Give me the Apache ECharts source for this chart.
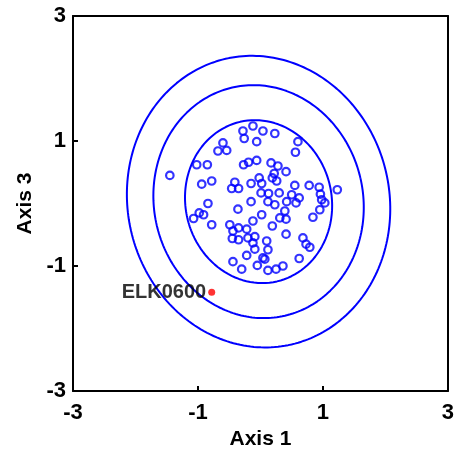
<!DOCTYPE html>
<html>
<head>
<meta charset="utf-8">
<script src="https://cdn.jsdelivr.net/npm/echarts@6/dist/echarts.min.js"></script>
<style>
  html, body { margin: 0; padding: 0; background: #fff; }
  #chart { width: 457px; height: 455px; }
</style>
</head>
<body>
<div id="chart"></div>
<script>
// Sample scores on ordination axes 1 and 3
const axis1 = [
  -0.12, -0.28, 0.04, 0.23, -0.26, -0.06, 0.60, 0.56, -0.60, -0.68,
  -0.54, -1.02, -0.85, -1.45, -0.94, -0.78, -0.27, -0.19, -0.06, 0.17,
  0.28, 0.41, 0.22, -0.02, 0.19, 0.26, 0.02, -0.15, -0.41, -0.46,
  -0.35, 0.55, 0.78, 0.94, 1.23, 0.96, 0.98, 0.50, 0.30, 0.13,
  0.01, 0.62, 0.42, 0.57, 1.03, 0.95, 0.84, -0.15, 0.12, 0.23,
  0.39, 0.02, 0.31, 0.41, 0.19, -0.12, -0.36, -0.84, -0.98, -0.91,
  -1.07, -0.78, -0.49, -0.35, -0.22, -0.44, -0.45, -0.35, -0.20, -0.09,
  -0.12, 0.10, 0.12, -0.09, -0.22, 0.04, -0.05, 0.07, -0.44, -0.30,
  0.12, 0.25, 0.36, 0.62, 0.41, 0.68, 0.73, 0.79
];
const axis3 = [
  1.24, 1.16, 1.16, 1.12, 1.04, 0.99, 0.99, 0.82, 0.97, 0.84,
  0.85, 0.62, 0.62, 0.45, 0.31, 0.36, 0.62, 0.66, 0.69, 0.65,
  0.60, 0.51, 0.48, 0.41, 0.41, 0.36, 0.32, 0.32, 0.34, 0.24,
  0.24, 0.29, 0.29, 0.26, 0.22, 0.15, 0.06, 0.14, 0.17, 0.16,
  0.17, 0.09, 0.03, 0.01, 0.01, -0.10, -0.22, 0.03, 0.03, -0.02,
  -0.12, -0.18, -0.23, -0.25, -0.36, -0.28, -0.09, 0.00, -0.15, -0.18,
  -0.24, -0.34, -0.34, -0.39, -0.41, -0.44, -0.56, -0.58, -0.55, -0.53,
  -0.63, -0.60, -0.74, -0.73, -0.83, -0.87, -0.99, -0.89, -0.93, -1.05,
  -1.07, -1.05, -1.00, -0.88, -0.49, -0.55, -0.65, -0.70
];

// Highlighted outlier
const outlierName = ['ELK0600'];
const outlierPoint = [-0.78, -1.42];

// Confidence ellipses: common centre, inner semi-axes, tilt and scale of each ring
const ellipseCenter = [-0.03, 0.03];
const ellipseSemiAxes = [1.17, 1.31];
const ellipseTiltDeg = [13];
const ellipseScales = [1, 1.43, 1.79];

// Axis ticks and titles
const tickValues = [-3, -1, 1, 3];
const axisTitles = ['Axis 1', 'Axis 3'];

const BLUE = '#0000ff';

function ellipsePath(scale) {
  const n = 240;
  const th = ellipseTiltDeg[0] * Math.PI / 180;
  const a = ellipseSemiAxes[0] * scale, b = ellipseSemiAxes[1] * scale;
  const pts = [];
  for (let i = 0; i <= n; i++) {
    const t = 2 * Math.PI * i / n;
    const u = a * Math.cos(t), v = b * Math.sin(t);
    pts.push([
      ellipseCenter[0] + u * Math.cos(th) - v * Math.sin(th),
      ellipseCenter[1] + u * Math.sin(th) + v * Math.cos(th)
    ]);
  }
  return pts;
}

const scatterData = axis1.map((x, i) => [x, axis3[i]]);

const fontFamily = '"Liberation Sans", Arial, sans-serif';

const baseAxis = {
  min: tickValues[0],
  max: tickValues[tickValues.length - 1],
  interval: tickValues[1] - tickValues[0],
  axisLine: { show: true, onZero: false, lineStyle: { color: '#000', width: 2 } },
  axisTick: { show: true, inside: true, length: 5, lineStyle: { color: '#000', width: 2 } },
  splitLine: { show: false },
  axisLabel: { color: '#000', fontSize: 22, fontWeight: 'bold', fontFamily: fontFamily },
  nameLocation: 'middle',
  nameTextStyle: { color: '#000', fontSize: 21, fontWeight: 'bold', fontFamily: fontFamily }
};

const series = ellipseScales.map(s => ({
  type: 'line',
  data: ellipsePath(s),
  showSymbol: false,
  smooth: false,
  silent: true,
  lineStyle: { color: BLUE, width: 2 },
  z: 2
}));

series.push({
  type: 'scatter',
  data: scatterData,
  symbol: 'circle',
  symbolSize: 7.5,
  itemStyle: { color: 'rgba(0,0,0,0)', borderColor: BLUE, borderWidth: 2.2 },
  z: 3
});

series.push({
  type: 'scatter',
  data: [{ value: outlierPoint, name: outlierName[0] }],
  symbol: 'circle',
  symbolSize: 7,
  itemStyle: { color: '#ff0000' },
  label: {
    show: true,
    position: 'left',
    distance: 2,
    formatter: '{b}',
    color: '#000',
    fontSize: 20,
    fontWeight: 'bold',
    fontFamily: fontFamily
  },
  z: 4
});

const chart = echarts.init(document.getElementById('chart'), null, { renderer: 'canvas' });
chart.setOption({
  animation: false,
  backgroundColor: '#fff',
  grid: { left: 73, right: 9, top: 16, bottom: 63, containLabel: false },
  xAxis: [
    Object.assign({}, baseAxis, {
      type: 'value', position: 'bottom', name: axisTitles[0], nameGap: 38,
      axisLabel: Object.assign({}, baseAxis.axisLabel, { margin: 11 })
    }),
    Object.assign({}, baseAxis, {
      type: 'value', position: 'top',
      axisTick: { show: false }, axisLabel: { show: false }
    })
  ],
  yAxis: [
    Object.assign({}, baseAxis, {
      type: 'value', position: 'left', name: axisTitles[1], nameGap: 37,
      axisLabel: Object.assign({}, baseAxis.axisLabel, { margin: 7 })
    }),
    Object.assign({}, baseAxis, {
      type: 'value', position: 'right',
      axisTick: { show: false }, axisLabel: { show: false }
    })
  ],
  series: series
});
</script>
</body>
</html>
